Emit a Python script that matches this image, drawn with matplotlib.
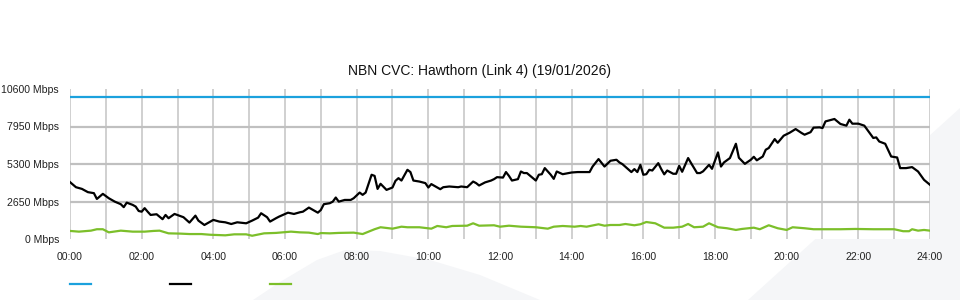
import matplotlib
matplotlib.use("Agg")
import matplotlib.pyplot as plt
from matplotlib.lines import Line2D
from matplotlib.patches import Polygon

plt.rcParams['font.family'] = ['Liberation Sans', 'DejaVu Sans']

title = "NBN CVC: Hawthorn (Link 4) (19/01/2026)"

# capacity (blue)
cap_min = [0, 1440]
cap_mbps = [10000, 10000]

# total traffic (black), minutes since midnight / Mbps
traffic_min = [0, 10, 20, 30, 40, 45, 55, 65, 75, 85, 90, 95, 105, 110, 115, 120, 125, 130,
               135, 145, 155, 160, 165, 175, 190, 200, 210, 215, 225, 240, 250, 260, 270, 280,
               295, 305, 315, 320, 330, 335, 345, 350, 365, 375, 385, 390, 400, 405, 415, 420,
               425, 435, 440, 445, 450, 460, 470, 475, 485, 490, 495, 505, 510, 515, 520, 530,
               540, 545, 550, 555, 565, 570, 575, 585, 595, 600, 605, 620, 625, 635, 650, 655,
               665, 675, 680, 685, 695, 705, 710, 715, 725, 730, 735, 740, 750, 755, 760, 765,
               780, 785, 790, 795, 805, 810, 815, 825, 835, 840, 850, 870, 875, 885, 895, 905,
               915, 920, 925, 940, 945, 950, 955, 960, 965, 970, 975, 985, 990, 995, 1000, 1010,
               1015, 1020, 1025, 1035, 1040, 1050, 1055, 1060, 1070, 1075, 1085, 1090, 1095,
               1105, 1115, 1120, 1130, 1140, 1145, 1150, 1160, 1165, 1170, 1180, 1185, 1195,
               1205, 1215, 1225, 1230, 1240, 1245, 1255, 1260, 1265, 1280, 1290, 1300, 1305,
               1310, 1320, 1330, 1335, 1345, 1350, 1355, 1365, 1375, 1385, 1390, 1400, 1410,
               1420, 1430, 1440]
traffic_mbps = [4020, 3660, 3540, 3310, 3240, 2830, 3190, 2880, 2640, 2460, 2250, 2570, 2410,
                2290, 1980, 1930, 2180, 1930, 1700, 1750, 1400, 1700, 1470, 1770, 1540, 1160,
                1650, 1300, 990, 1350, 1230, 1180, 1060, 1180, 1110, 1300, 1510, 1820, 1540,
                1230, 1470, 1580, 1860, 1770, 1890, 1930, 2220, 2100, 1860, 2050, 2460, 2530,
                2640, 2930, 2640, 2760, 2760, 2880, 3280, 3120, 3280, 4540, 4460, 3540, 3900,
                3470, 3640, 4110, 4300, 4130, 4890, 4730, 4130, 4060, 3950, 3640, 3880, 3520,
                3660, 3710, 3660, 3710, 3660, 4060, 3950, 3780, 4000, 4130, 4230, 4370, 4340,
                4730, 4460, 4130, 4230, 4770, 4660, 4660, 4130, 4540, 4580, 5010, 4540, 4250,
                4770, 4580, 4660, 4700, 4730, 4730, 5120, 5650, 5120, 5530, 5600, 5410, 5290,
                4730, 4940, 4730, 5240, 4540, 4580, 4890, 4840, 5360, 4940, 4570, 4840, 4610,
                4610, 5170, 4750, 5720, 5360, 4660, 4660, 4780, 5240, 4960, 6120, 5120, 5410,
                5720, 6730, 5740, 5310, 5600, 5810, 5560, 5830, 6310, 6430, 7060, 6800, 7300,
                7510, 7770, 7490, 7370, 7550, 7870, 7890, 7840, 8310, 8480, 8130, 8010, 8430,
                8150, 8150, 8010, 7720, 7140, 7180, 6890, 6730, 5830, 5760, 5010, 5010, 5080,
                4770, 4180, 3830]

# second series (green)
green_min = [0, 15, 35, 45, 55, 65, 85, 105, 125, 140, 150, 165, 185, 200, 220, 235, 260, 275,
             295, 305, 325, 345, 370, 385, 400, 415, 420, 435, 450, 475, 490, 510, 520, 540,
             555, 565, 585, 605, 615, 630, 640, 665, 675, 685, 710, 720, 735, 755, 780, 800,
             810, 825, 845, 855, 865, 885, 895, 905, 920, 930, 945, 955, 965, 980, 995, 1010,
             1025, 1035, 1045, 1060, 1070, 1085, 1100, 1115, 1125, 1145, 1155, 1170, 1185,
             1200, 1210, 1230, 1245, 1265, 1290, 1315, 1345, 1380, 1395, 1405, 1410, 1420,
             1430, 1440]
green_mbps = [570, 520, 590, 690, 690, 470, 590, 520, 520, 570, 590, 400, 380, 350, 350, 300,
              260, 330, 330, 230, 400, 430, 520, 470, 450, 350, 420, 400, 430, 450, 350, 690,
              830, 730, 870, 830, 830, 730, 920, 830, 920, 940, 1110, 940, 970, 870, 940, 870,
              830, 730, 870, 920, 870, 920, 870, 1040, 940, 990, 990, 1060, 970, 1040, 1200,
              1110, 800, 800, 870, 1060, 830, 870, 1110, 830, 760, 640, 710, 800, 690, 970,
              760, 640, 830, 760, 690, 690, 690, 710, 690, 690, 550, 550, 690, 590, 640, 590]

y_ticks = [0, 2650, 5300, 7950, 10600]
y_labels = [f"{v} Mbps" for v in y_ticks]
x_ticks = list(range(0, 25, 2))
x_labels = [f"{h:02d}:00" for h in x_ticks]

blue = "#1ba1dd"
green = "#7cbf2a"
swoosh = "#f5f6f8"

fig = plt.figure(figsize=(9.6, 3.0), dpi=100)

# faint background swooshes, behind everything
fig.patches.append(Polygon([(253, 0), (280, 18), (317, 40), (345, 50), (380, 49),
                            (430, 40), (480, 25), (540, 0)],
                           closed=True, transform=None, facecolor=swoosh,
                           edgecolor="none", zorder=-5))
fig.patches.append(Polygon([(748, 0), (960, 192), (960, 0)], closed=True, transform=None,
                           facecolor=swoosh, edgecolor="none", zorder=-5))

ax = fig.add_axes([70 / 960, 61 / 300, 860 / 960, 150 / 300])
ax.set_facecolor("white")
ax.set_zorder(1)

ax.plot([m / 60 for m in cap_min], cap_mbps, color=blue, lw=1.6, zorder=3)
ax.plot([m / 60 for m in traffic_min], traffic_mbps, color="black", lw=1.6, zorder=4)
ax.plot([m / 60 for m in green_min], green_mbps, color=green, lw=1.6, zorder=3)

ax.set_xlim(0, 24)
ax.set_ylim(0, 10600)
ax.set_xticks(x_ticks)
ax.set_xticklabels(x_labels)
ax.set_xticks(range(1, 24, 2), minor=True)
ax.set_yticks(y_ticks)
ax.set_yticklabels(y_labels)

ax.tick_params(axis="both", which="both", length=0, labelsize=7.6, colors="#222222")
ax.tick_params(axis="x", pad=9)
ax.tick_params(axis="y", pad=8)

ax.grid(axis="x", which="both", color="#c8c8c8", lw=1.2, zorder=1)
ax.grid(axis="y", which="major", color="#c0c0c0", lw=1.6, zorder=1)
gl = ax.yaxis.get_gridlines()
gl[0].set_visible(False)
gl[-1].set_visible(False)
for s in ax.spines.values():
    s.set_visible(False)

fig.text(0.5, 1 - 71 / 300, title, ha="center", va="center", fontsize=10, color="#111111")

handles = [Line2D([], [], color=c, lw=1.6) for c in (blue, "black", green)]
fig.legend(handles, ["", "", ""], ncol=3, frameon=False, fontsize=8,
           loc="center left", bbox_to_anchor=(70 / 960, 15 / 300),
           borderpad=0, borderaxespad=0, handlelength=1.9, handletextpad=0,
           columnspacing=7.1)

fig.savefig("out.png", dpi=100, facecolor="white")
